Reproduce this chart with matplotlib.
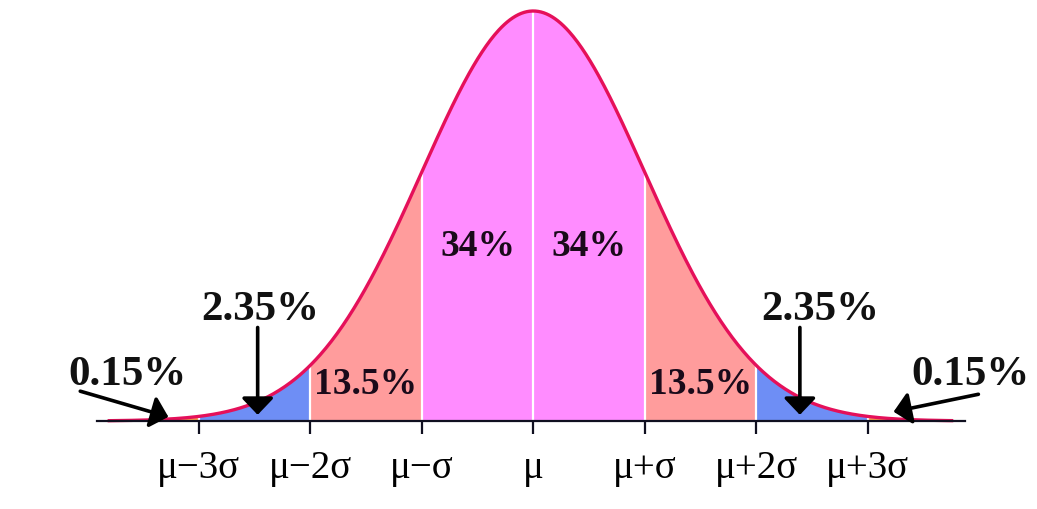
import numpy as np
from matplotlib import pyplot as plt

# band edges in sigma units and their fill colours
edges = [-3.8, -3, -2, -1, 0, 1, 2, 3, 3.75]
band_colors = ['#ffa050', '#6e8ef5', '#ff9c9c', '#ff8cff',
               '#ff8cff', '#ff9c9c', '#6e8ef5', '#ffa050']

tick_pos = [-3, -2, -1, 0, 1, 2, 3]
tick_labels = ['μ−3σ', 'μ−2σ', 'μ−σ', 'μ', 'μ+σ', 'μ+2σ', 'μ+3σ']

inner_labels = ['13.5%', '34%', '34%', '13.5%']
inner_x = [-1.5, -0.5, 0.5, 1.5]
inner_y = [0.0365, 0.171, 0.171, 0.0365]

tail_labels = ['2.35%', '2.35%', '0.15%', '0.15%']


def pdf(z):
    return np.exp(-z ** 2 / 2) / np.sqrt(2 * np.pi)


fig = plt.figure(figsize=(10.37, 5.10), dpi=100)
ax = fig.add_axes([97 / 1037, 88 / 510, 868 / 1037, 410 / 510])
ax.set_xlim(-3.91, 3.87)
ax.set_ylim(0, pdf(0))

for i in range(len(edges) - 1):
    z = np.linspace(edges[i], edges[i + 1], 200)
    ax.fill_between(z, 0, pdf(z), color=band_colors[i], lw=0)

# white separators
for b in tick_pos:
    ax.plot([b, b], [0, pdf(b)], color='white', lw=1.6)

z = np.linspace(edges[0], edges[-1], 600)
ax.plot(z, pdf(z), color='#e5105a', lw=2.4, clip_on=False)

for s in ['top', 'left', 'right']:
    ax.spines[s].set_visible(False)
ax.spines['bottom'].set_linewidth(1.6)
ax.spines['bottom'].set_color('#101020')
ax.set_yticks([])
ax.set_xticks(tick_pos)
ax.set_xticklabels(tick_labels, family='Liberation Serif', fontsize=28)
ax.tick_params(axis='x', direction='out', length=9, width=1.6,
               color='#101020', pad=11)

for lab, x, y in zip(inner_labels, inner_x, inner_y):
    ax.text(x, y, lab, ha='center', va='center', family='Liberation Serif',
            weight='bold', fontsize=27, color='#1a0a1a')

big = dict(ha='center', va='center', family='Liberation Serif',
           weight='bold', fontsize=31, color='#111111')
ax.text(-2.45, 0.109, tail_labels[0], **big)
ax.text(2.57, 0.109, tail_labels[1], **big)
ax.text(-3.64, 0.0457, tail_labels[2], clip_on=False, **big)
ax.text(3.92, 0.0457, tail_labels[3], clip_on=False, **big)

arr = dict(arrowstyle='-|>,head_width=0.45,head_length=0.47', color='black',
           lw=2.6, mutation_scale=21.6, shrinkA=0, shrinkB=0)
ax.annotate('', xy=(-2.47, 0.006), xytext=(-2.47, 0.091), arrowprops=arr)
ax.annotate('', xy=(2.39, 0.006), xytext=(2.39, 0.091), arrowprops=arr)
ax.annotate('', xy=(-3.27, 0.004), xytext=(-4.06, 0.029),
            arrowprops=arr, annotation_clip=False)
ax.annotate('', xy=(3.23, 0.009), xytext=(3.99, 0.026),
            arrowprops=arr, annotation_clip=False)

fig.savefig('out.png', dpi=100)
